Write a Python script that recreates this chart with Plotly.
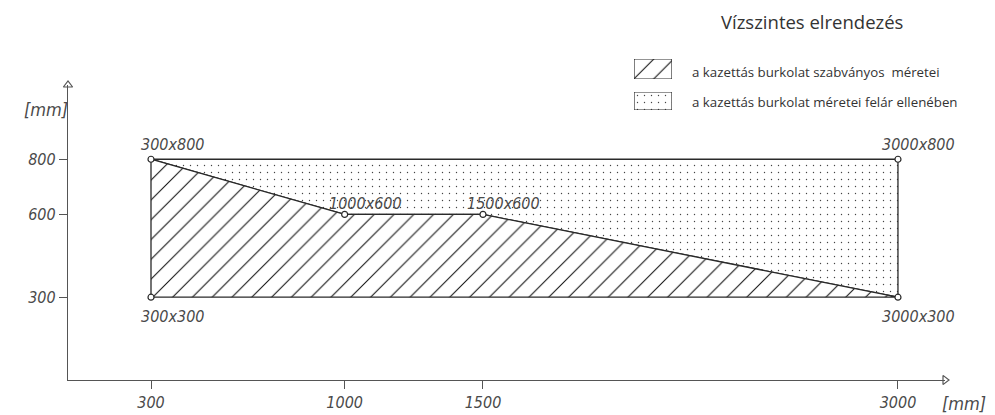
import plotly.graph_objects as go

# region outlines in mm (closed polygons)
standard_x = [300, 300, 1000, 1500, 3000, 300]
standard_y = [300, 800, 600, 600, 300, 300]
extra_x = [300, 3000, 3000, 1500, 1000, 300]
extra_y = [800, 800, 300, 600, 600, 800]

# labelled corner points
point_x = [300, 3000, 1000, 1500, 300, 3000]
point_y = [800, 800, 600, 600, 300, 300]

x_ticks = [300, 1000, 1500, 3000]
y_ticks = [300, 600, 800]
x_max = 3170
y_max = 1069

legend_title = "Vízszintes elrendezés"
legend_labels = ["a kazettás burkolat szabványos \u00a0méretei",
                 "a kazettás burkolat méretei felár ellenében"]

W, H = 995, 415
INK = "#2a2a2a"
CAD = dict(family="Liberation Sans Narrow, DejaVu Sans Condensed, sans-serif",
           size=16, color="#4a4a4a", style="italic")
SANS = dict(family="Open Sans, Lato, sans-serif", color="#333333")


def px_x(p):
    return p / W


def px_y(p):
    return 1 - p / H


hatch = dict(shape="/", size=14, solidity=0.075, fgcolor="#111111", fgopacity=1, bgcolor="white")
dots = dict(shape=".", size=7, solidity=0.03, fgcolor="#444444", fgopacity=1, bgcolor="white")

fig = go.Figure()

fig.add_trace(go.Scatter(
    x=extra_x, y=extra_y, mode="lines", fill="toself",
    fillpattern=dots, fillcolor="white",
    line=dict(color=INK, width=1.3), hoverinfo="skip", showlegend=False,
))
fig.add_trace(go.Scatter(
    x=standard_x, y=standard_y, mode="lines", fill="toself",
    fillpattern=hatch, fillcolor="white",
    line=dict(color=INK, width=1.3), hoverinfo="skip", showlegend=False,
))
fig.add_trace(go.Scatter(
    x=point_x, y=point_y, mode="markers", cliponaxis=False,
    marker=dict(symbol="circle", size=6, color="white", line=dict(color=INK, width=1.2)),
    showlegend=False,
))

# axis arrow heads
fig.add_trace(go.Scatter(
    x=[0, x_max], y=[y_max, 0], mode="markers", cliponaxis=False,
    marker=dict(symbol=["triangle-up-open", "triangle-right-open"], size=8,
                color="#555555", line=dict(width=1.2)),
    showlegend=False, hoverinfo="skip",
))

# point labels
for x, y in zip(point_x, point_y):
    if y == max(point_y):
        dy = 15
    elif y == min(point_y):
        dy = -19
    else:
        dy = 11
    fig.add_annotation(x=x, y=y, text=f"{x}x{y}", showarrow=False,
                       xshift=21, yshift=dy, font=CAD)

# legend swatches on their own small axes
fig.add_trace(go.Scatter(
    x=[0, 1, 1, 0, 0], y=[0, 0, 1, 1, 0], mode="lines", fill="toself",
    fillpattern=hatch, fillcolor="white", line=dict(color=INK, width=1.2),
    xaxis="x2", yaxis="y2", showlegend=False, hoverinfo="skip",
))
fig.add_trace(go.Scatter(
    x=[0, 1, 1, 0, 0], y=[0, 0, 1, 1, 0], mode="lines", fill="toself",
    fillpattern=dots, fillcolor="white", line=dict(color=INK, width=1.2),
    xaxis="x3", yaxis="y3", showlegend=False, hoverinfo="skip",
))

fig.add_annotation(xref="paper", yref="paper", x=px_x(719), y=px_y(22),
                   xanchor="left", yanchor="middle", text=legend_title,
                   showarrow=False, font=dict(SANS, size=18.5))
for label, cy in zip(legend_labels, [72, 102]):
    fig.add_annotation(xref="paper", yref="paper", x=px_x(690), y=px_y(cy),
                       xanchor="left", yanchor="middle", text=label,
                       showarrow=False, font=dict(SANS, size=13.3))

# unit labels
fig.add_annotation(xref="paper", yref="paper", x=px_x(46), y=px_y(110),
                   xanchor="center", yanchor="middle",
                   text="[mm]", showarrow=False, font=dict(CAD, size=18))
fig.add_annotation(xref="paper", yref="paper", x=px_x(964), y=px_y(403),
                   xanchor="center", yanchor="middle",
                   text="[mm]", showarrow=False, font=dict(CAD, size=18))

axis_common = dict(showgrid=False, zeroline=False, showline=True,
                   linecolor="#555555", linewidth=1.3, ticks="outside",
                   ticklen=8, tickwidth=1.2, tickcolor="#555555",
                   tickfont=CAD, fixedrange=True)

blank = dict(visible=False, range=[0, 1], fixedrange=True)

fig.update_layout(
    width=W, height=H,
    margin=dict(l=0, r=0, t=0, b=0),
    paper_bgcolor="white", plot_bgcolor="white",
    xaxis=dict(axis_common, range=[0, x_max], domain=[px_x(68), px_x(945)],
               tickvals=x_ticks),
    yaxis=dict(axis_common, range=[0, y_max], domain=[px_y(380), px_y(85)],
               tickvals=y_ticks),
    xaxis2=dict(blank, domain=[px_x(634), px_x(672)], anchor="y2"),
    yaxis2=dict(blank, domain=[px_y(79), px_y(59)], anchor="x2"),
    xaxis3=dict(blank, domain=[px_x(634), px_x(672)], anchor="y3"),
    yaxis3=dict(blank, domain=[px_y(110), px_y(92)], anchor="x3"),
)

fig.write_html("out.html", config={"displayModeBar": False},
               post_script="document.body.style.margin='0px';")
